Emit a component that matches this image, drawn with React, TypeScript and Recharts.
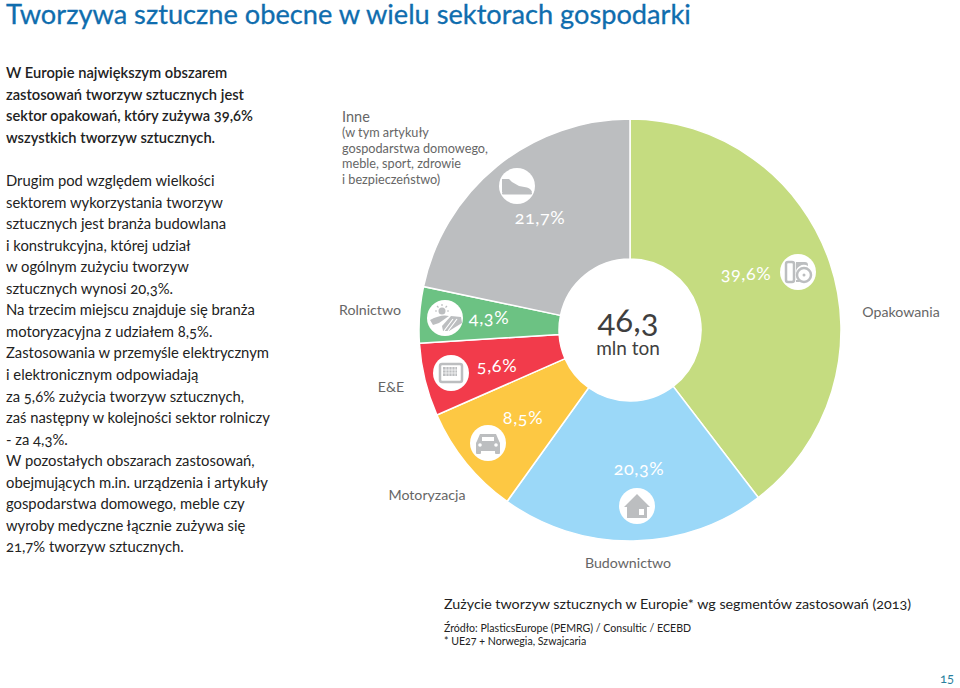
import { Cell, Pie, PieChart } from "recharts";

const segments = ["Opakowania", "Budownictwo", "Motoryzacja", "E&E", "Rolnictwo", "Inne"];
const shares = [39.6, 20.3, 8.5, 5.6, 4.3, 21.7];
const shareLabels = ["39,6%", "20,3%", "8,5%", "5,6%", "4,3%", "21,7%"];
const palette = ["#c5dc80", "#9bd8f8", "#fdc843", "#f23b4b", "#6cc283", "#bcbec0"];

const rows = segments.map((name, i) => ({ name, value: shares[i] }));

const FONT = "Lato, 'Open Sans', sans-serif";
const ICON = "#bcbec0";

const introLines = [
  "W Europie największym obszarem",
  "zastosowań tworzyw sztucznych jest",
  "sektor opakowań, który zużywa 39,6%",
  "wszystkich tworzyw sztucznych.",
];
const bodyLines = [
  "Drugim pod względem wielkości",
  "sektorem wykorzystania tworzyw",
  "sztucznych jest branża budowlana",
  "i konstrukcyjna, której udział",
  "w ogólnym zużyciu tworzyw",
  "sztucznych wynosi 20,3%.",
  "Na trzecim miejscu znajduje się branża",
  "motoryzacyjna z udziałem 8,5%.",
  "Zastosowania w przemyśle elektrycznym",
  "i elektronicznym odpowiadają",
  "za 5,6% zużycia tworzyw sztucznych,",
  "zaś następny w kolejności sektor rolniczy",
  "- za 4,3%.",
  "W pozostałych obszarach zastosowań,",
  "obejmujących m.in. urządzenia i artykuły",
  "gospodarstwa domowego, meble czy",
  "wyroby medyczne łącznie zużywa się",
  "21,7% tworzyw sztucznych.",
];
const inneLines = ["(w tym artykuły", "gospodarstwa domowego,", "meble, sport, zdrowie", "i bezpieczeństwo)"];

// hand placed in the picture, same order as segments
const labelSpots = [
  [746, 275],
  [639, 470],
  [523, 419],
  [497, 367],
  [489, 319],
  [540, 219],
];
const iconSpots = [
  [798, 272],
  [637, 506],
  [488, 443],
  [451, 373],
  [445, 318],
  [517, 186],
];
const nameSpots = [
  [901, 312],
  [628, 563],
  [427, 495],
  [391, 387],
  [370, 310],
];

function Glyph({ index }: { index: number }) {
  if (index === 0) {
    return (
      <g>
        <rect x={-12} y={-10} width={8} height={20} rx={2} fill="none" stroke={ICON} strokeWidth={2.5} />
        <path d="M-2 -10h9a3 3 0 0 1 3 3v1a8 8 0 0 0-12 8z" fill={ICON} />
        <path d="M-2 8h3l1 2h-4z" fill={ICON} />
        <circle cx={6} cy={3} r={7} fill="none" stroke={ICON} strokeWidth={2.5} />
        <circle cx={6} cy={3} r={1.5} fill={ICON} />
      </g>
    );
  }
  if (index === 1) {
    return <path d="M0 -12 L13 1 L10 1 L10 12 L-10 12 L-10 1 L-13 1 Z M2 3 V9 H7 V3 Z" fill={ICON} fillRule="evenodd" />;
  }
  if (index === 2) {
    return (
      <g fill={ICON}>
        <path d="M-8 -9h16l3 7 1 2v8h-24v-8l1-2z" />
        <rect x={-12} y={7} width={5} height={4} rx={1} />
        <rect x={7} y={7} width={5} height={4} rx={1} />
        <rect x={-6} y={-6} width={12} height={4} fill="#fff" />
        <circle cx={-8} cy={2} r={1.8} fill="#fff" />
        <circle cx={8} cy={2} r={1.8} fill="#fff" />
      </g>
    );
  }
  if (index === 3) {
    return (
      <g>
        <rect x={-11} y={-9} width={22} height={18} rx={2} fill="none" stroke={ICON} strokeWidth={2.5} />
        <rect x={-8} y={-6} width={14} height={9} fill={ICON} />
        <path d="M-8 -3h14M-8 0h14M-5 -6v9M-2 -6v9M1 -6v9M4 -6v9" stroke="#fff" strokeWidth={0.7} />
      </g>
    );
  }
  if (index === 4) {
    return (
      <g fill={ICON}>
        <circle cx={-3} cy={-7} r={3.5} />
        <path
          d="M-3 -14v2M-10 -7h2M4 -7h-2M-8 -12l1.5 1.5M2 -12l-1.5 1.5"
          stroke={ICON}
          strokeWidth={1.2}
        />
        <path d="M-15 2 Q-4 -4 4 -2 L-6 5 L-12 7 Z" />
        <path d="M6 -2 L16 -1 L17 5 L4 13 L-2 13 L-3 8 Z" />
        <path d="M8 1 L-1 13 M12 1 L3 13" stroke="#fff" strokeWidth={1.2} />
      </g>
    );
  }
  return (
    <g fill={ICON}>
      <path d="M-15 -7h7l3 3 7 4 8 1.5q4 1 5 4.5h-30z" />
      <rect x={-15} y={6} width={30} height={2.5} rx={1} />
    </g>
  );
}

function renderLabel(props: any) {
  const i = props.index;
  return (
    <g key={i}>
      <circle cx={iconSpots[i][0]} cy={iconSpots[i][1]} r={18} fill="#fff" />
      <g transform={`translate(${iconSpots[i][0]} ${iconSpots[i][1]})`}>
        <Glyph index={i} />
      </g>
      <text
        x={labelSpots[i][0]}
        y={labelSpots[i][1]}
        textAnchor="middle"
        dominantBaseline="middle"
        fill="#fff"
        fontFamily={FONT}
        fontSize={18}
        style={{ fontFeatureSettings: "'onum'", letterSpacing: 0.6 }}
      >
        {shareLabels[i]}
      </text>
    </g>
  );
}

function Lines({ lines, top, weight = 400, size = 14.8 }: { lines: string[]; top: number; weight?: number; size?: number }) {
  return (
    <>
      {lines.map((line, i) => (
        <div
          key={i}
          style={{
            position: "absolute",
            left: 6,
            top: top + i * 21.55 - 11,
            lineHeight: "22px",
            fontSize: size,
            fontWeight: weight,
            color: "#222",
            whiteSpace: "nowrap",
            fontFeatureSettings: "'onum'",
          }}
        >
          {line}
        </div>
      ))}
    </>
  );
}

function Note({ x, y, size, color, text, center }: { x: number; y: number; size: number; color: string; text: string; center?: boolean }) {
  return (
    <div
      style={{
        position: "absolute",
        left: x,
        top: y - size * 0.6,
        lineHeight: `${size * 1.2}px`,
        fontSize: size,
        color,
        whiteSpace: "nowrap",
        fontFeatureSettings: "'onum'",
        transform: center ? "translateX(-50%)" : undefined,
      }}
    >
      {text}
    </div>
  );
}

export default function App() {
  return (
    <div style={{ position: "absolute", left: 0, top: 0, width: 960, height: 688, background: "#fff", fontFamily: FONT, overflow: "hidden" }}>
      <div style={{ position: "absolute", left: 6, top: 0, lineHeight: "28px", fontSize: 27.2, color: "#0f6dae", whiteSpace: "nowrap", WebkitTextStroke: "0.3px #0f6dae" }}>
        Tworzywa sztuczne obecne w wielu sektorach gospodarki
      </div>
      <Lines lines={introLines} top={72} weight={600} size={14.7} />
      <Lines lines={bodyLines} top={180} />

      <div style={{ position: "absolute", left: 0, top: 0 }}>
        <PieChart width={960} height={688} margin={{ top: 0, right: 0, bottom: 0, left: 0 }}>
          <Pie
            data={rows}
            dataKey="value"
            nameKey="name"
            cx={630}
            cy={330}
            innerRadius={71}
            outerRadius={211}
            startAngle={90}
            endAngle={-270}
            stroke="#fff"
            strokeWidth={1.5}
            label={renderLabel}
            labelLine={false}
            isAnimationActive={false}
          >
            {rows.map((r, i) => (
              <Cell key={r.name} fill={palette[i]} />
            ))}
          </Pie>
        </PieChart>
      </div>

      <Note x={628} y={320} size={33} color="#3f3f3f" text="46,3" center />
      <Note x={628} y={348} size={19} color="#3f3f3f" text="mln ton" center />

      {nameSpots.map((spot, i) => (
        <Note key={i} x={spot[0]} y={spot[1]} size={14.2} color="#666" text={segments[i]} center />
      ))}
      <Note x={342} y={117} size={14.5} color="#666" text={segments[5]} />
      {inneLines.map((line, i) => (
        <Note key={line} x={342} y={133 + i * 15.5} size={12.7} color="#666" text={line} />
      ))}

      <Note x={444} y={604} size={14.3} color="#222" text="Zużycie tworzyw sztucznych w Europie* wg segmentów zastosowań (2013)" />
      <Note x={444} y={628} size={10.6} color="#222" text="Źródło: PlasticsEurope (PEMRG) / Consultic / ECEBD" />
      <Note x={444} y={641} size={10.6} color="#222" text="* UE27 + Norwegia, Szwajcaria" />
      <Note x={940} y={679} size={13} color="#2a7f9e" text="15" />
    </div>
  );
}
